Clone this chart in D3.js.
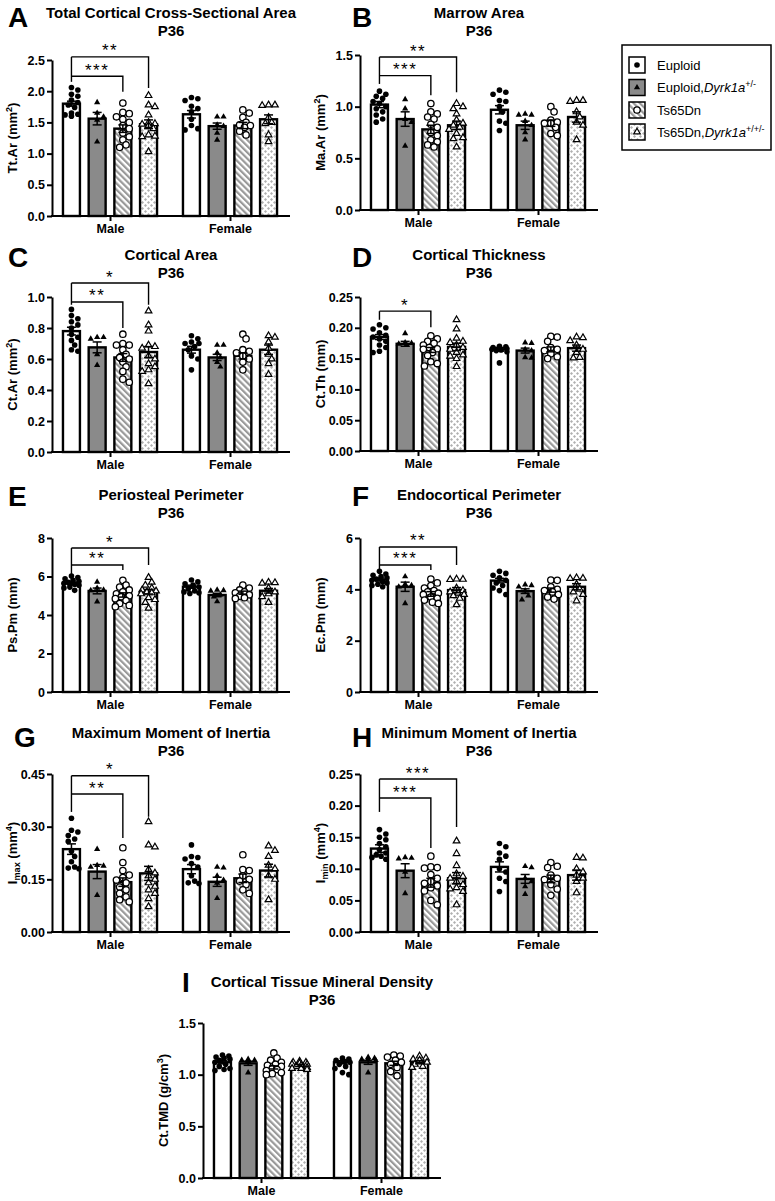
<!DOCTYPE html>
<html><head><meta charset="utf-8">
<script src="https://cdn.jsdelivr.net/npm/d3@7"></script>
<style>
body{margin:0;background:#fff}
svg{display:block}
text{font-family:Arial,"Liberation Sans",Helvetica,sans-serif}
</style>
</head><body>
<svg id="chart" width="775" height="1201"></svg>
<script>
// ---------------- DATA ----------------
const groups = ["Male", "Female"];
const seriesNames = ["Euploid", "Euploid,Dyrk1a+/-", "Ts65Dn", "Ts65Dn,Dyrk1a+/+/-"];

// A  Total Cortical Cross-Sectional Area
const ttArTicks = [0, 0.5, 1.0, 1.5, 2.0, 2.5];
const ttArMeans = [[1.80, 1.56, 1.40, 1.47], [1.63, 1.44, 1.45, 1.55]];
const ttArSem = [[0.04, 0.10, 0.06, 0.07], [0.06, 0.05, 0.05, 0.07]];
const ttArPoints = [
  [[2.06, 2.02, 1.95, 1.92, 1.86, 1.82, 1.78, 1.74, 1.65, 1.63, 1.62, 1.60],
   [1.82, 1.65, 1.59, 1.54, 1.19],
   [1.81, 1.66, 1.64, 1.59, 1.55, 1.50, 1.45, 1.40, 1.33, 1.27, 1.22, 1.14, 1.10],
   [1.93, 1.78, 1.75, 1.62, 1.50, 1.48, 1.47, 1.45, 1.40, 1.30, 1.28, 1.27, 1.03]],
  [[1.90, 1.88, 1.85, 1.76, 1.72, 1.67, 1.55, 1.45, 1.40, 1.38],
   [1.59, 1.59, 1.46, 1.44, 1.33, 1.22],
   [1.70, 1.65, 1.58, 1.50, 1.46, 1.45, 1.42, 1.36, 1.30],
   [1.78, 1.77, 1.78, 1.58, 1.50, 1.48, 1.30, 1.19]]
];
const ttArSig = [[3, 2.55, 2.05, "**"], [2, 2.24, 1.99, "***"]];
const ttArLeftEnd = 2.15;

// B  Marrow Area
const maArTicks = [0, 0.5, 1.0, 1.5];
const maArMeans = [[1.02, 0.88, 0.78, 0.82], [0.97, 0.82, 0.84, 0.90]];
const maArSem = [[0.03, 0.07, 0.04, 0.04], [0.04, 0.04, 0.03, 0.05]];
const maArPoints = [
  [[1.15, 1.12, 1.10, 1.08, 1.05, 1.03, 1.00, 0.98, 0.95, 0.92, 0.88, 0.85],
   [1.07, 0.98, 0.88, 0.85, 0.62],
   [1.03, 0.95, 0.93, 0.90, 0.88, 0.83, 0.80, 0.75, 0.72, 0.68, 0.66, 0.63, 0.61],
   [1.03, 1.00, 0.98, 0.93, 0.87, 0.84, 0.82, 0.80, 0.78, 0.74, 0.70, 0.69, 0.61]],
  [[1.16, 1.14, 1.12, 1.06, 1.05, 1.00, 0.95, 0.86, 0.84, 0.77],
   [0.93, 0.92, 0.92, 0.86, 0.82, 0.75, 0.68],
   [1.00, 0.95, 0.87, 0.85, 0.84, 0.84, 0.80, 0.74, 0.72],
   [1.06, 1.05, 1.06, 0.95, 0.90, 0.85, 0.82, 0.68]]
];
const maArSig = [[3, 1.48, 1.14, "**"], [2, 1.30, 1.11, "***"]];
const maArLeftEnd = 1.22;

// C  Cortical Area
const ctArTicks = [0, 0.2, 0.4, 0.6, 0.8, 1.0];
const ctArMeans = [[0.78, 0.675, 0.61, 0.645], [0.66, 0.61, 0.62, 0.66]];
const ctArSem = [[0.025, 0.035, 0.025, 0.035], [0.022, 0.02, 0.02, 0.03]];
const ctArPoints = [
  [[0.92, 0.88, 0.86, 0.84, 0.82, 0.80, 0.76, 0.74, 0.72, 0.69, 0.66, 0.65],
   [0.74, 0.74, 0.73, 0.63, 0.56],
   [0.76, 0.70, 0.69, 0.69, 0.66, 0.63, 0.61, 0.60, 0.58, 0.55, 0.52, 0.47, 0.45],
   [0.91, 0.82, 0.78, 0.69, 0.68, 0.67, 0.62, 0.60, 0.57, 0.55, 0.53, 0.52, 0.44]],
  [[0.75, 0.73, 0.71, 0.70, 0.70, 0.68, 0.66, 0.62, 0.60, 0.53],
   [0.69, 0.69, 0.64, 0.61, 0.58, 0.55],
   [0.76, 0.73, 0.66, 0.65, 0.64, 0.62, 0.60, 0.58, 0.53],
   [0.75, 0.74, 0.71, 0.67, 0.63, 0.60, 0.57, 0.50]]
];
const ctArSig = [[3, 1.09, 0.95, "*"], [2, 0.968, 0.80, "**"]];
const ctArLeftEnd = 0.95;

// D  Cortical Thickness
const ctThTicks = [0, 0.05, 0.10, 0.15, 0.20, 0.25];
const ctThMeans = [[0.185, 0.174, 0.164, 0.169], [0.165, 0.163, 0.165, 0.167]];
const ctThSem = [[0.004, 0.004, 0.004, 0.006], [0.003, 0.004, 0.004, 0.005]];
const ctThPoints = [
  [[0.205, 0.200, 0.198, 0.192, 0.188, 0.185, 0.182, 0.178, 0.172, 0.168, 0.162, 0.160],
   [0.191, 0.176, 0.175, 0.174, 0.172],
   [0.187, 0.182, 0.178, 0.175, 0.172, 0.168, 0.166, 0.165, 0.160, 0.155, 0.145, 0.142, 0.138],
   [0.213, 0.198, 0.183, 0.178, 0.176, 0.172, 0.168, 0.165, 0.160, 0.156, 0.154, 0.150, 0.137]],
  [[0.170, 0.169, 0.168, 0.167, 0.166, 0.165, 0.164, 0.163, 0.161, 0.143],
   [0.176, 0.175, 0.165, 0.163, 0.152, 0.151],
   [0.186, 0.185, 0.178, 0.168, 0.165, 0.163, 0.158, 0.153, 0.150],
   [0.185, 0.184, 0.179, 0.172, 0.165, 0.160, 0.152, 0.151]]
];
const ctThSig = [[2, 0.227, 0.201, "*"]];
const ctThLeftEnd = 0.213;

// E  Periosteal Perimeter
const psPmTicks = [0, 2, 4, 6, 8];
const psPmMeans = [[5.64, 5.25, 5.04, 5.21], [5.47, 5.04, 5.16, 5.26]];
const psPmSem = [[0.07, 0.15, 0.11, 0.12], [0.08, 0.09, 0.08, 0.12]];
const psPmPoints = [
  [[6.02, 5.95, 5.88, 5.80, 5.75, 5.70, 5.65, 5.60, 5.55, 5.45, 5.40, 5.28],
   [5.72, 5.40, 5.30, 5.28, 4.69],
   [5.80, 5.55, 5.45, 5.30, 5.20, 5.10, 5.00, 4.95, 4.85, 4.75, 4.60, 4.50, 4.43],
   [5.95, 5.70, 5.55, 5.40, 5.30, 5.25, 5.20, 5.15, 5.10, 4.90, 4.80, 4.65, 4.35]],
  [[5.82, 5.72, 5.62, 5.55, 5.45, 5.35, 5.25, 5.20, 5.15, 5.12],
   [5.30, 5.28, 5.25, 5.05, 4.95, 4.70],
   [5.55, 5.40, 5.30, 5.20, 5.15, 5.05, 4.98, 4.90, 4.86],
   [5.70, 5.68, 5.65, 5.40, 5.20, 5.10, 4.95, 4.65]]
];
const psPmSig = [[3, 7.48, 6.6, "*"], [2, 6.6, 6.34, "**"]];
const psPmLeftEnd = 6.08;

// F  Endocortical Perimeter
const ecPmTicks = [0, 2, 4, 6];
const ecPmMeans = [[4.38, 4.10, 3.82, 3.97], [4.34, 3.93, 3.97, 4.10]];
const ecPmSem = [[0.06, 0.18, 0.09, 0.10], [0.09, 0.09, 0.08, 0.12]];
const ecPmPoints = [
  [[4.70, 4.60, 4.55, 4.50, 4.45, 4.40, 4.35, 4.30, 4.25, 4.20, 4.15, 4.10],
   [4.50, 4.20, 4.15, 4.10, 3.45],
   [4.40, 4.25, 4.15, 4.05, 3.95, 3.90, 3.85, 3.80, 3.70, 3.65, 3.58, 3.50, 3.45],
   [4.40, 4.39, 4.38, 4.05, 3.95, 3.90, 3.85, 3.80, 3.75, 3.65, 3.40]],
  [[4.70, 4.62, 4.55, 4.45, 4.35, 4.25, 4.15, 4.05, 3.95, 3.80],
   [4.18, 4.15, 4.10, 3.95, 3.75, 3.60],
   [4.36, 4.35, 4.10, 4.00, 3.95, 3.90, 3.80, 3.70, 3.62],
   [4.45, 4.43, 4.42, 4.20, 4.00, 3.90, 3.80, 3.55]]
];
const ecPmSig = [[3, 5.65, 4.95, "**"], [2, 4.95, 4.75, "***"]];
const ecPmLeftEnd = 4.72;

// G  Maximum Moment of Inertia
const imaxTicks = [0, 0.15, 0.30, 0.45];
const imaxMeans = [[0.236, 0.172, 0.142, 0.167], [0.179, 0.143, 0.153, 0.175]];
const imaxSem = [[0.015, 0.02, 0.012, 0.02], [0.013, 0.013, 0.012, 0.018]];
const imaxPoints = [
  [[0.324, 0.290, 0.285, 0.275, 0.265, 0.258, 0.230, 0.215, 0.200, 0.185, 0.182, 0.180],
   [0.236, 0.190, 0.188, 0.185, 0.105],
   [0.240, 0.198, 0.175, 0.162, 0.155, 0.148, 0.140, 0.128, 0.120, 0.110, 0.100, 0.092, 0.086],
   [0.314, 0.248, 0.242, 0.178, 0.168, 0.160, 0.150, 0.140, 0.130, 0.120, 0.110, 0.095, 0.072]],
  [[0.248, 0.215, 0.212, 0.208, 0.195, 0.185, 0.160, 0.145, 0.140, 0.138],
   [0.185, 0.183, 0.160, 0.148, 0.140, 0.096],
   [0.220, 0.178, 0.175, 0.160, 0.150, 0.145, 0.135, 0.120, 0.110],
   [0.245, 0.232, 0.215, 0.190, 0.180, 0.160, 0.150, 0.092]]
];
const imaxSig = [[3, 0.445, 0.328, "*"], [2, 0.393, 0.268, "**"]];
const imaxLeftEnd = 0.342;

// H  Minimum Moment of Inertia
const iminTicks = [0, 0.05, 0.10, 0.15, 0.20, 0.25];
const iminMeans = [[0.132, 0.097, 0.078, 0.085], [0.103, 0.084, 0.084, 0.090]];
const iminSem = [[0.006, 0.011, 0.007, 0.009], [0.008, 0.007, 0.006, 0.008]];
const iminPoints = [
  [[0.162, 0.155, 0.150, 0.146, 0.140, 0.135, 0.130, 0.125, 0.122, 0.120, 0.118, 0.115],
   [0.118, 0.117, 0.116, 0.095, 0.061],
   [0.120, 0.103, 0.102, 0.101, 0.091, 0.085, 0.080, 0.077, 0.073, 0.070, 0.065, 0.050, 0.043],
   [0.144, 0.124, 0.105, 0.092, 0.088, 0.085, 0.080, 0.075, 0.070, 0.068, 0.064, 0.043]],
  [[0.140, 0.135, 0.125, 0.120, 0.115, 0.100, 0.095, 0.085, 0.080, 0.064],
   [0.104, 0.102, 0.085, 0.080, 0.072, 0.060],
   [0.110, 0.104, 0.102, 0.090, 0.085, 0.083, 0.075, 0.068, 0.058],
   [0.118, 0.117, 0.100, 0.095, 0.090, 0.085, 0.080, 0.062]]
];
const iminSig = [[3, 0.242, 0.166, "***"], [2, 0.212, 0.133, "***"]];
const iminLeftEnd = 0.19;

// I  Cortical Tissue Mineral Density
const tmdTicks = [0, 0.5, 1.0, 1.5];
const tmdMeans = [[1.12, 1.11, 1.07, 1.09], [1.12, 1.12, 1.11, 1.12]];
const tmdSem = [[0.015, 0.02, 0.015, 0.01], [0.015, 0.02, 0.02, 0.015]];
const tmdPoints = [
  [[1.19, 1.18, 1.17, 1.16, 1.15, 1.14, 1.12, 1.10, 1.08, 1.06, 1.05, 1.04],
   [1.15, 1.14, 1.14, 1.13, 1.02],
   [1.21, 1.16, 1.14, 1.12, 1.10, 1.09, 1.08, 1.06, 1.05, 1.04, 1.02, 1.01, 1.00],
   [1.13, 1.12, 1.12, 1.11, 1.10, 1.10, 1.09, 1.08, 1.07, 1.06, 1.06, 1.05]],
  [[1.16, 1.15, 1.14, 1.13, 1.12, 1.10, 1.08, 1.06, 1.02, 1.00],
   [1.17, 1.16, 1.15, 1.15, 1.14, 1.02],
   [1.19, 1.18, 1.17, 1.14, 1.12, 1.10, 1.07, 1.03, 0.99],
   [1.18, 1.16, 1.15, 1.14, 1.12, 1.10, 1.08, 1.07]]
];
const tmdSig = [];
const tmdLeftEnd = null;

// ---------------- LAYOUT ----------------
const panels = [
  {letter:"A", title:"Total Cortical Cross-Sectional Area", ylab:[["Tt.Ar (mm",""],["2","sup"],[")",""]], ticks:ttArTicks, fmt:".1f", means:ttArMeans, sem:ttArSem, pts:ttArPoints, sig:ttArSig, leftEnd:ttArLeftEnd,
   x0:52, top:60, bottom:216, lx:8, ly:27, ty:18},
  {letter:"B", title:"Marrow Area", ylab:[["Ma.Ar (mm",""],["2","sup"],[")",""]], ticks:maArTicks, fmt:".1f", means:maArMeans, sem:maArSem, pts:maArPoints, sig:maArSig, leftEnd:maArLeftEnd,
   x0:360, top:55, bottom:210, lx:352, ly:27, ty:18},
  {letter:"C", title:"Cortical Area", ylab:[["Ct.Ar (mm",""],["2","sup"],[")",""]], ticks:ctArTicks, fmt:".1f", means:ctArMeans, sem:ctArSem, pts:ctArPoints, sig:ctArSig, leftEnd:ctArLeftEnd,
   x0:52, top:297, bottom:452, lx:8, ly:267, ty:260},
  {letter:"D", title:"Cortical Thickness", ylab:[["Ct.Th (mm)",""]], ticks:ctThTicks, fmt:".2f", means:ctThMeans, sem:ctThSem, pts:ctThPoints, sig:ctThSig, leftEnd:ctThLeftEnd,
   x0:360, top:297, bottom:451, lx:352, ly:267, ty:260},
  {letter:"E", title:"Periosteal Perimeter", ylab:[["Ps.Pm (mm)",""]], ticks:psPmTicks, fmt:"d", means:psPmMeans, sem:psPmSem, pts:psPmPoints, sig:psPmSig, leftEnd:psPmLeftEnd,
   x0:52, top:538, bottom:692, lx:8, ly:506, ty:500},
  {letter:"F", title:"Endocortical Perimeter", ylab:[["Ec.Pm (mm)",""]], ticks:ecPmTicks, fmt:"d", means:ecPmMeans, sem:ecPmSem, pts:ecPmPoints, sig:ecPmSig, leftEnd:ecPmLeftEnd,
   x0:360, top:538, bottom:692, lx:352, ly:506, ty:500},
  {letter:"G", title:"Maximum Moment of Inertia", ylab:[["I",""],["max","sub"],[" (mm",""],["4","sup"],[")",""]], ticks:imaxTicks, fmt:".2f", means:imaxMeans, sem:imaxSem, pts:imaxPoints, sig:imaxSig, leftEnd:imaxLeftEnd,
   x0:52, top:774, bottom:932, lx:14, ly:747, ty:738},
  {letter:"H", title:"Minimum Moment of Inertia", ylab:[["I",""],["min","sub"],[" (mm",""],["4","sup"],[")",""]], ticks:iminTicks, fmt:".2f", means:iminMeans, sem:iminSem, pts:iminPoints, sig:iminSig, leftEnd:iminLeftEnd,
   x0:360, top:774, bottom:932, lx:352, ly:747, ty:738},
  {letter:"I", title:"Cortical Tissue Mineral Density", ylab:[["Ct.TMD (g/cm",""],["3","sup"],[")",""]], ticks:tmdTicks, fmt:".1f", means:tmdMeans, sem:tmdSem, pts:tmdPoints, sig:tmdSig, leftEnd:tmdLeftEnd,
   x0:203, top:1023, bottom:1178, lx:182, ly:992, ty:987}
];

const AXW = 238;           // x-axis length
const FONT = "Arial, 'Liberation Sans', Helvetica, sans-serif";
const GRAY = "#8a8a8a";

const svg = d3.select("#chart");
const defs = svg.append("defs");

// stripe pattern (Ts65Dn)
const ps = defs.append("pattern").attr("id","stripe").attr("patternUnits","userSpaceOnUse")
  .attr("width",4.4).attr("height",4.4).attr("patternTransform","rotate(-45)");
ps.append("rect").attr("width",4.4).attr("height",4.4).attr("fill","#fff");
ps.append("rect").attr("x",0).attr("width",2.2).attr("height",4.4).attr("fill","#999");

// dotted pattern (Ts65Dn,Dyrk1a)
const pd = defs.append("pattern").attr("id","dots").attr("patternUnits","userSpaceOnUse")
  .attr("width",6).attr("height",6);
pd.append("rect").attr("width",6).attr("height",6).attr("fill","#fff");
[[1.5,1.5],[4.5,4.5]].forEach(([cx,cy])=>{
  pd.append("path").attr("d",`M${cx-1.5},${cy}L${cx},${cy-1.5}L${cx+1.5},${cy}L${cx},${cy+1.5}Z`).attr("fill","#b0b0b0");
});

const barFill = ["#ffffff", GRAY, "url(#stripe)", "url(#dots)"];

function drawMarker(g, s, x, y) {
  if (s === 0) {
    g.append("circle").attr("cx",x).attr("cy",y).attr("r",2.8).attr("fill","#000");
  } else if (s === 1) {
    g.append("path").attr("d", d3.symbol(d3.symbolTriangle, 17)()).attr("transform",`translate(${x},${y})`).attr("fill","#000");
  } else if (s === 2) {
    g.append("circle").attr("cx",x).attr("cy",y).attr("r",3.2).attr("fill","#fff").attr("stroke","#000").attr("stroke-width",1.3);
  } else {
    g.append("path").attr("d", d3.symbol(d3.symbolTriangle, 19)()).attr("transform",`translate(${x},${y})`).attr("fill","#fff").attr("stroke","#000").attr("stroke-width",1.2);
  }
}

// deterministic beeswarm offsets
function swarm(ys, dia) {
  const order = ys.map((y,i)=>i).sort((a,b)=>ys[a]-ys[b]);
  const placed = [];
  const xs = new Array(ys.length).fill(0);
  const cands = [0, 3.2, -3.2, 6.4, -6.4, 1.6, -1.6, 4.8, -4.8, 7.5, -7.5];
  order.forEach(i=>{
    let best = 0, bestOv = Infinity;
    for (const c of cands) {
      let ov = 0;
      for (const p of placed) {
        const d = Math.hypot(c-p.x, ys[i]-p.y);
        if (d < dia) ov += dia - d;
      }
      if (ov < bestOv - 1e-9) { bestOv = ov; best = c; }
      if (ov === 0) break;
    }
    xs[i] = best;
    placed.push({x:best, y:ys[i]});
  });
  return xs;
}

function addRich(textSel, parts, baseSize) {
  let shift = 0;
  parts.forEach(([t, kind])=>{
    const ts = textSel.append("tspan").text(t);
    let target = 0, size = baseSize;
    if (kind === "sup") { target = -baseSize*0.42; size = baseSize*0.7; }
    if (kind === "sub") { target = baseSize*0.25; size = baseSize*0.7; }
    ts.attr("dy", target - shift).attr("font-size", size);
    shift = target;
  });
}

panels.forEach(P=>{
  const g = svg.append("g");
  const y = d3.scaleLinear().domain([0, P.ticks[P.ticks.length-1]]).range([P.bottom, P.top]);
  const gx = d3.scalePoint().domain(groups).range([P.x0+58, P.x0+178]);
  const sx = d3.scaleBand().domain(d3.range(4)).range([-51.4, 51.4]).paddingInner(0.34).paddingOuter(0.17);
  const bw = sx.bandwidth();
  const cx = (gi, s) => gx(groups[gi]) + sx(s) + bw/2;

  // panel letter
  g.append("text").attr("x",P.lx).attr("y",P.ly).attr("font-size",28).attr("font-weight","bold").attr("font-family",FONT).text(P.letter);
  // title
  const tcx = P.x0 + AXW/2;
  g.append("text").attr("x",tcx).attr("y",P.ty).attr("text-anchor","middle").attr("font-size",15).attr("font-weight","bold").attr("font-family",FONT).text(P.title);
  g.append("text").attr("x",tcx).attr("y",P.ty+18).attr("text-anchor","middle").attr("font-size",15).attr("font-weight","bold").attr("font-family",FONT).text("P36");

  // bars
  groups.forEach((grp, gi)=>{
    for (let s=0; s<4; s++) {
      const m = P.means[gi][s];
      g.append("rect").attr("x", gx(grp)+sx(s)).attr("y", y(m)).attr("width", bw).attr("height", y(0)-y(m))
        .attr("fill", barFill[s]).attr("stroke","#000").attr("stroke-width",2.4);
    }
  });
  // points
  groups.forEach((grp, gi)=>{
    for (let s=0; s<4; s++) {
      const vals = P.pts[gi][s];
      const ys = vals.map(v=>y(v));
      const xs = swarm(ys, 5.6);
      vals.forEach((v,i)=>drawMarker(g, s, cx(gi,s)+xs[i], ys[i]));
    }
  });
  // error bars
  groups.forEach((grp, gi)=>{
    for (let s=0; s<4; s++) {
      const m = P.means[gi][s], e = P.sem[gi][s], c = cx(gi,s);
      const eg = g.append("g").attr("stroke","#000").attr("stroke-width",1.5);
      eg.append("line").attr("x1",c).attr("x2",c).attr("y1",y(m-e)).attr("y2",y(m+e));
      eg.append("line").attr("x1",c-4.5).attr("x2",c+4.5).attr("y1",y(m+e)).attr("y2",y(m+e));
      eg.append("line").attr("x1",c-4.5).attr("x2",c+4.5).attr("y1",y(m-e)).attr("y2",y(m-e));
    }
  });

  // y axis
  const ya = g.append("g").attr("transform",`translate(${P.x0},0)`)
    .call(d3.axisLeft(y).tickValues(P.ticks).tickSize(5).tickSizeOuter(0).tickPadding(2).tickFormat(d3.format(P.fmt)));
  ya.select(".domain").attr("stroke-width",2);
  ya.selectAll(".tick line").attr("stroke-width",2);
  ya.selectAll(".tick text").attr("font-size",12.5).attr("font-weight","bold").attr("font-family",FONT).attr("fill","#000");
  // x axis
  const xa = g.append("g").attr("transform",`translate(0,${P.bottom})`)
    .call(d3.axisBottom(gx).tickSize(5).tickSizeOuter(0).tickPadding(3));
  xa.select(".domain").remove();
  xa.append("line").attr("x1",P.x0-1).attr("x2",P.x0+AXW).attr("stroke","#000").attr("stroke-width",2);
  xa.selectAll(".tick line").attr("stroke-width",2);
  xa.selectAll(".tick text").attr("font-size",12.5).attr("font-weight","bold").attr("font-family",FONT).attr("fill","#000");

  // y label
  const yl = g.append("text").attr("transform",`translate(${P.x0-35},${(P.top+P.bottom)/2}) rotate(-90)`)
    .attr("text-anchor","middle").attr("font-size",13).attr("font-weight","bold").attr("font-family",FONT);
  addRich(yl, P.ylab, 13);

  // significance brackets
  if (P.sig.length) {
    const lx = cx(0,0);
    const topLevel = d3.max(P.sig, d=>d[1]);
    const bg = g.append("g").attr("stroke","#000").attr("stroke-width",1.4).attr("fill","none");
    bg.append("line").attr("x1",lx).attr("x2",lx).attr("y1",y(topLevel)).attr("y2",y(P.leftEnd));
    P.sig.forEach(([to, lvl, end, lab])=>{
      const rx = cx(0,to);
      bg.append("polyline").attr("points",`${lx},${y(lvl)} ${rx},${y(lvl)} ${rx},${y(end)}`);
      g.append("text").attr("x",(lx+rx)/2).attr("y",y(lvl)-0.5).attr("text-anchor","middle")
        .attr("font-size",17).attr("letter-spacing",1.5).attr("font-family",FONT).text(lab);
    });
  }
});

// ---------------- LEGEND ----------------
const leg = svg.append("g");
leg.append("rect").attr("x",622).attr("y",45).attr("width",149).attr("height",105).attr("fill","#fff").attr("stroke","#000").attr("stroke-width",1.5);
const legY = [65, 87.5, 110, 132];
const legParts = [
  [["Euploid",""]],
  [["Euploid,",""],["Dyrk1a","it"],["+/-","sup"]],
  [["Ts65Dn",""]],
  [["Ts65Dn,",""],["Dyrk1a","it"],["+/+/-","sup"]]
];
seriesNames.forEach((nm, s)=>{
  const yc = legY[s];
  leg.append("rect").attr("x",629).attr("y",yc-8).attr("width",16).attr("height",16).attr("fill",barFill[s]).attr("stroke","#000").attr("stroke-width",1.5);
  drawMarker(leg, s, 637, yc);
  const t = leg.append("text").attr("x",657).attr("y",yc+4.5).attr("font-size",13).attr("font-family",FONT).attr("fill","#000");
  let shift = 0;
  legParts[s].forEach(([txt, kind])=>{
    const ts = t.append("tspan").text(txt);
    let target = 0;
    if (kind === "it") ts.attr("font-style","italic");
    if (kind === "sup") { target = -5; ts.attr("font-size",9); }
    ts.attr("dy", target - shift); shift = target;
  });
});
</script>
</body></html>
